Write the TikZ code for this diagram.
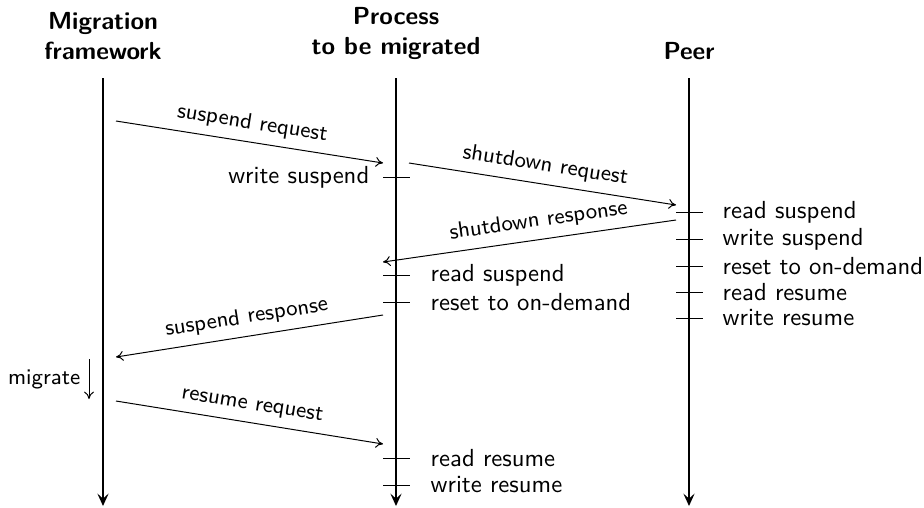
\documentclass[tikz,border=0pt]{standalone}
\usepackage{tikz}
\usetikzlibrary{arrows.meta}

\begin{document}
\begin{tikzpicture}[x=0.405pt, y=-0.405pt, font=\sffamily,
  head/.style={font=\sffamily\bfseries, align=center, anchor=south},
  life/.style={-{Stealth[length=5pt, width=4.5pt, inset=2pt]}, thick},
  msg/.style={-{To[length=3pt, width=4pt]}},
  tag/.style={font=\sffamily\small, sloped, above},
  evtick/.style={thin}]

  \useasboundingbox (0,0) rectangle (924,507);

  \node[head] (MF) at (103,68) {Migration\\framework};
  \node[head] (PR) at (396,68) {Process\\to be migrated};
  \node[head] (PE) at (689,68) {Peer};

  \coordinate (MFt) at (103,78);  \coordinate (MFb) at (103,506);
  \coordinate (PRt) at (396,78);  \coordinate (PRb) at (396,506);
  \coordinate (PEt) at (689,78);  \coordinate (PEb) at (689,506);
  \draw[life] (MFt) -- (MFb);
  \draw[life] (PRt) -- (PRb);
  \draw[life] (PEt) -- (PEb);

  \coordinate (m1a) at (116,121); \coordinate (m1b) at (383,163);
  \coordinate (m2a) at (409,163); \coordinate (m2b) at (676,205);
  \coordinate (m3a) at (676,220); \coordinate (m3b) at (383,262);
  \coordinate (m4a) at (383,315); \coordinate (m4b) at (116,357);
  \coordinate (m5a) at (116,401); \coordinate (m5b) at (383,444);
  \coordinate (mga) at (89,359);  \coordinate (mgb) at (89,399);

  \path (m1a) edge[msg] node[tag] {suspend request} (m1b)
        (m2a) edge[msg] node[tag] {shutdown request} (m2b)
        (m3a) edge[msg] node[tag, pos=0.46] {shutdown response} (m3b)
        (m4a) edge[msg] node[tag] {suspend response} (m4b)
        (m5a) edge[msg] node[tag] {resume request} (m5b)
        (mga) edge[msg] node[left, font=\sffamily\small] (MG) {migrate} (mgb);

  \draw[evtick] (383,177) -- (410,177);
  \node[anchor=east] (PRws) at (378,177) {write suspend};
  \foreach \y/\t [count=\i] in {275/read suspend, 302/reset to on-demand,
                                458/read resume, 485/write resume} {
    \draw[evtick] (383,\y) -- (410,\y);
    \node[anchor=west] (PR\i) at (422,\y) {\t};
  }
  \foreach \y/\t [count=\i] in {212/read suspend, 239/write suspend,
                                266/reset to on-demand, 292/read resume,
                                318/write resume} {
    \draw[evtick] (676,\y) -- (703,\y);
    \node[anchor=west] (PE\i) at (714,\y) {\t};
  }

\end{tikzpicture}
\end{document}
